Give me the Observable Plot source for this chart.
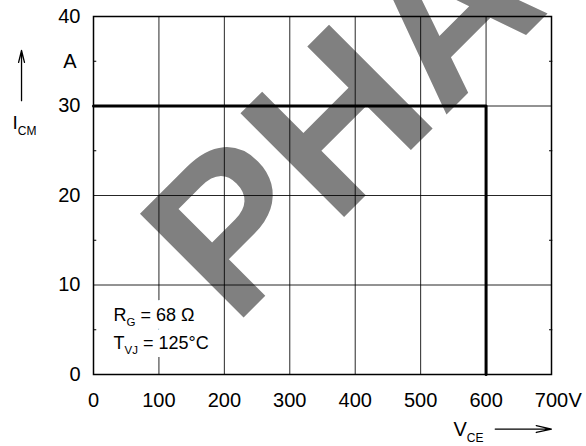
<!DOCTYPE html>
<html><head><meta charset="utf-8">
<script src="https://cdn.jsdelivr.net/npm/d3@7"></script>
<script src="https://cdn.jsdelivr.net/npm/@observablehq/plot@0.6"></script>
<style>body{margin:0;background:#fff} svg{display:block}</style>
</head><body><div id="chart"></div>
<script>
const xTicks = [0, 100, 200, 300, 400, 500, 600, 700];
const yTicks = [0, 10, 20, 30, 40];
const yMinorTicks = [5, 15, 25, 35];
const vce = [0, 600, 600];
const icm = [30, 30, 0];
const watermark = ["PHA"];
const noteR = ["R{G} = 68 Ω"];
const noteT = ["T{VJ} = 125°C"];
const xLabel = ["V{CE}"];
const yLabel = ["I{CM}"];
const xUnit = ["V"];
const yUnit = ["A"];

const font = "'Liberation Sans', Arial, Helvetica, sans-serif";

const noteOpts = {frameAnchor: "bottom-left", dx: 20, textAnchor: "start", lineAnchor: "bottom", fontSize: 18};

const chart = Plot.plot({
  width: 586, height: 446,
  marginLeft: 93, marginRight: 35, marginTop: 16, marginBottom: 72,
  style: {fontFamily: font, fontSize: "20px", color: "black", background: "white"},
  x: {domain: [0, 700]},
  y: {domain: [0, 40]},
  marks: [
    Plot.text(watermark, {frameAnchor: "middle", dx: 70, dy: -27, rotate: -45, lineAnchor: "bottom",
      textAnchor: "middle", fontSize: 213, fontWeight: "bold", fill: "#808080", fontFamily: font}),
    Plot.gridX(xTicks, {stroke: "black", strokeOpacity: 0.85, strokeWidth: 1}),
    Plot.gridY(yTicks, {stroke: "black", strokeOpacity: 0.85, strokeWidth: 1}),
    Plot.ruleY(yMinorTicks, {x1: 0, x2: 5, stroke: "black", strokeWidth: 1}),
    Plot.ruleY(yMinorTicks, {x1: 697, x2: 702, stroke: "black", strokeWidth: 1}),
    Plot.frame({stroke: "black", strokeWidth: 1.5}),
    Plot.line(vce.map((d, i) => i), {x: i => vce[i], y: i => icm[i], stroke: "black", strokeWidth: 3}),
    Plot.axisX({ticks: xTicks, tickSize: 0, tickPadding: 18, fontSize: 20, label: null}),
    Plot.axisY({ticks: yTicks, tickSize: 0, tickPadding: 13, fontSize: 20, label: null}),
    Plot.text(yUnit, {y: [35], frameAnchor: "left", dx: -23.5, textAnchor: "middle", fontSize: 20}),
    Plot.text(xUnit, {x: [700], frameAnchor: "bottom", dx: 17, dy: 32, lineAnchor: "bottom", textAnchor: "start", fontSize: 20}),
    Plot.text(yLabel, {frameAnchor: "top-left", dx: -81, dy: 112, textAnchor: "start", lineAnchor: "bottom", fontSize: 19, className: "sub-label"}),
    Plot.text(xLabel, {frameAnchor: "bottom-right", dx: -98, dy: 61, textAnchor: "start", lineAnchor: "bottom", fontSize: 20, className: "sub-label"}),
    Plot.arrow([0], {x1: -110, x2: -110, y1: 30.6, y2: 36.2, stroke: "black", strokeWidth: 1.3, headLength: 14, headAngle: 28}),
    Plot.arrow([0], {x1: 614, x2: 700, y1: -6.1, y2: -6.1, stroke: "black", strokeWidth: 1.3, headLength: 18, headAngle: 25}),
    // white halo layer behind the notes
    Plot.text(noteR, {...noteOpts, dy: -54, stroke: "white", strokeWidth: 16, fill: "white", className: "sub-note"}),
    Plot.text(noteT, {...noteOpts, dy: -26, stroke: "white", strokeWidth: 16, fill: "white", className: "sub-note"}),
    Plot.text(noteR, {...noteOpts, dy: -54, fill: "black", className: "sub-note"}),
    Plot.text(noteT, {...noteOpts, dy: -26, fill: "black", className: "sub-note"})
  ]
});

function subscript(el, size, shift) {
  const s = el.textContent;
  const parts = s.split(/(\{[^}]*\})/).filter(p => p);
  el.textContent = "";
  let shifted = false;
  for (const p of parts) {
    const ts = d3.select(el).append("tspan");
    if (p.startsWith("{")) {
      ts.text(p.slice(1, -1)).attr("font-size", size).attr("dy", shift);
      shifted = true;
    } else {
      ts.text(p);
      if (shifted) { ts.attr("dy", -shift); shifted = false; }
    }
  }
}
d3.select(chart).selectAll(".sub-label text").each(function() { subscript(this, 12, 6); });
d3.select(chart).selectAll(".sub-note text").each(function() { subscript(this, 11.5, 5); });

document.getElementById("chart").appendChild(chart);
</script>
</body></html>
